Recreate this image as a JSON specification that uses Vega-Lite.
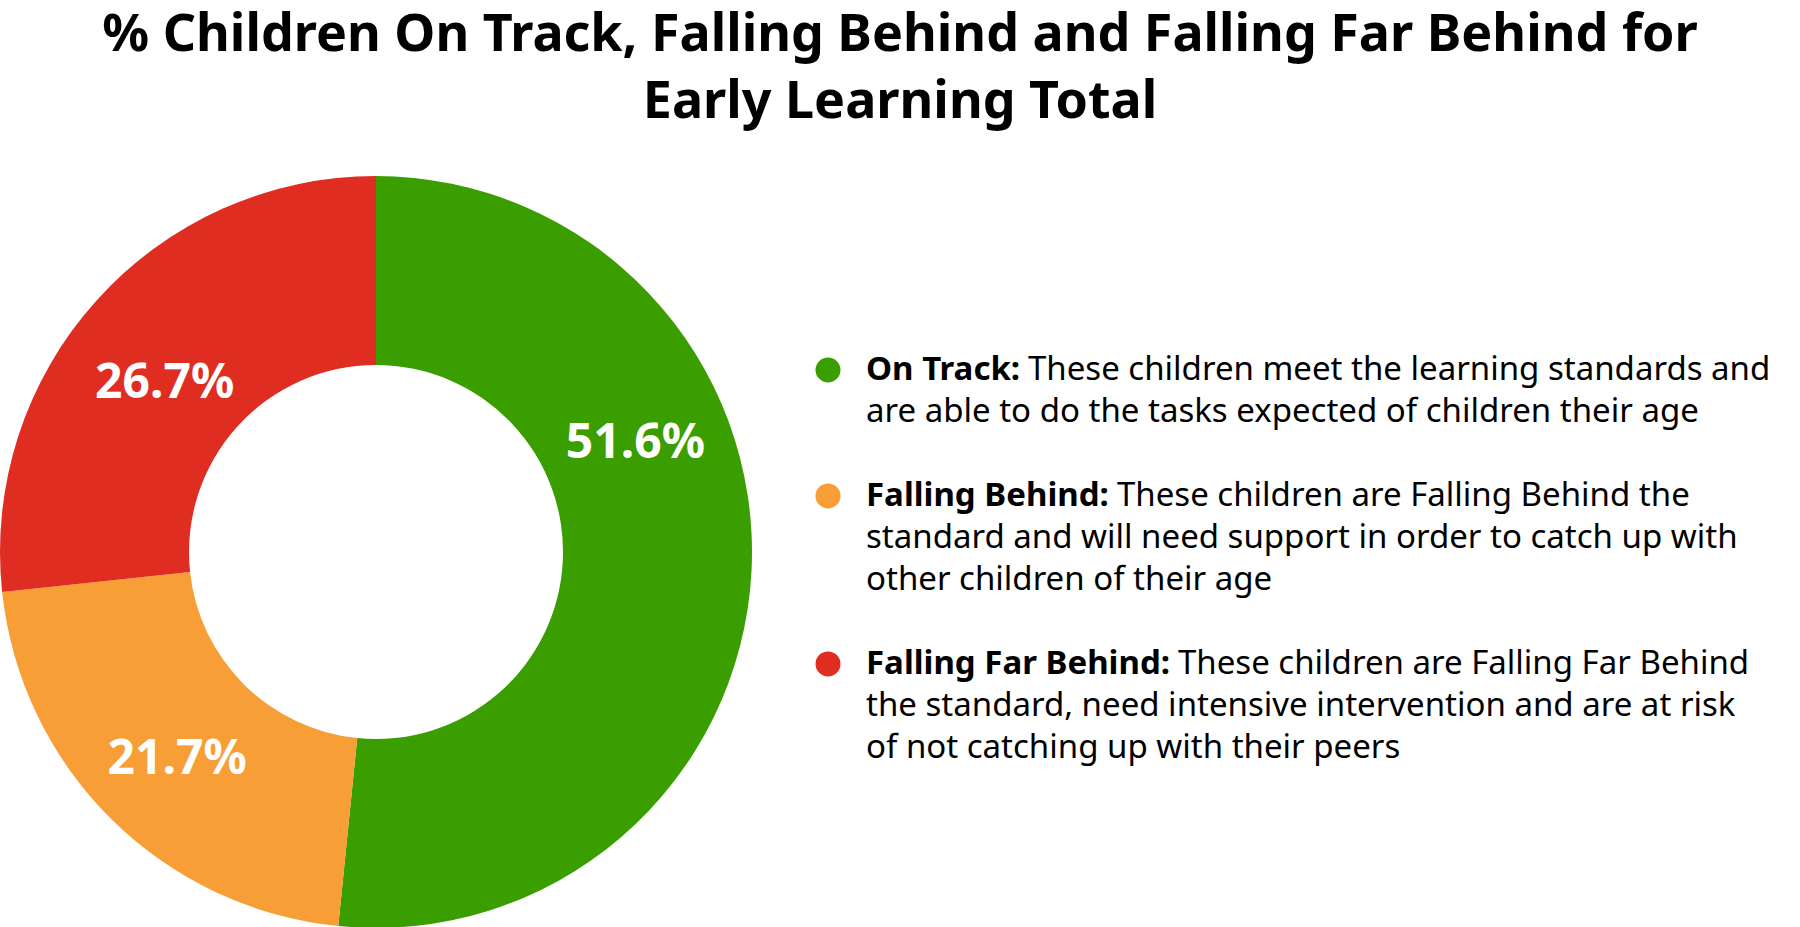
{
  "$schema": "https://vega.github.io/schema/vega-lite/v6.json",
  "padding": {"top": 9, "left": 0, "right": 0, "bottom": 0},
  "background": "white",
  "spacing": 0,
  "title": {
    "text": ["% Children On Track, Falling Behind and Falling Far Behind for", "Early Learning Total"],
    "anchor": "middle",
    "font": "Noto Sans",
    "fontSize": 52,
    "fontWeight": "bold",
    "lineHeight": 67,
    "offset": 47,
    "color": "#000000"
  },
  "datasets": {
    "shares": [
      {"category": "On Track", "idx": 1, "share": 0.516},
      {"category": "Falling Behind", "idx": 2, "share": 0.217},
      {"category": "Falling Far Behind", "idx": 3, "share": 0.267}
    ],
    "legend": [
      {"category": "On Track", "line": 0, "part": "label", "text": "On Track:"},
      {"category": "On Track", "line": 0, "part": "lead", "text": "These children meet the learning standards and"},
      {"category": "On Track", "line": 1, "part": "body", "text": "are able to do the tasks expected of children their age"},
      {"category": "Falling Behind", "line": 3, "part": "label", "text": "Falling Behind:"},
      {"category": "Falling Behind", "line": 3, "part": "lead", "text": "These children are Falling Behind the"},
      {"category": "Falling Behind", "line": 4, "part": "body", "text": "standard and will need support in order to catch up with"},
      {"category": "Falling Behind", "line": 5, "part": "body", "text": "other children of their age"},
      {"category": "Falling Far Behind", "line": 7, "part": "label", "text": "Falling Far Behind:"},
      {"category": "Falling Far Behind", "line": 7, "part": "lead", "text": "These children are Falling Far Behind"},
      {"category": "Falling Far Behind", "line": 8, "part": "body", "text": "the standard, need intensive intervention and are at risk"},
      {"category": "Falling Far Behind", "line": 9, "part": "body", "text": "of not catching up with their peers"}
    ]
  },
  "hconcat": [
    {
      "width": 752,
      "height": 752,
      "data": {"name": "shares"},
      "encoding": {
        "theta": {"field": "share", "type": "quantitative", "stack": true},
        "order": {"field": "idx", "type": "quantitative"}
      },
      "layer": [
        {
          "mark": {"type": "arc", "outerRadius": 376, "innerRadius": 187},
          "encoding": {
            "color": {
              "field": "category",
              "type": "nominal",
              "scale": {
                "domain": ["On Track", "Falling Behind", "Falling Far Behind"],
                "range": ["#3a9e00", "#f89e37", "#e02d22"]
              },
              "legend": null
            }
          }
        },
        {
          "mark": {"type": "text", "radius": 281, "thetaOffset": -0.445, "font": "Noto Sans", "fontSize": 48, "fontWeight": "bold", "color": "#ffffff"},
          "encoding": {
            "text": {
              "condition": {"test": "datum.category == 'On Track'", "field": "share", "type": "quantitative", "format": ".1%"},
              "value": ""
            }
          }
        },
        {
          "mark": {"type": "text", "radius": 288, "thetaOffset": -0.02, "font": "Noto Sans", "fontSize": 48, "fontWeight": "bold", "color": "#ffffff"},
          "encoding": {
            "text": {
              "condition": {"test": "datum.category == 'Falling Behind'", "field": "share", "type": "quantitative", "format": ".1%"},
              "value": ""
            }
          }
        },
        {
          "mark": {"type": "text", "radius": 270, "thetaOffset": -0.06, "font": "Noto Sans", "fontSize": 48, "fontWeight": "bold", "color": "#ffffff"},
          "encoding": {
            "text": {
              "condition": {"test": "datum.category == 'Falling Far Behind'", "field": "share", "type": "quantitative", "format": ".1%"},
              "value": ""
            }
          }
        }
      ]
    },
    {
      "width": 1048,
      "height": 752,
      "data": {"name": "legend"},
      "encoding": {
        "y": {
          "field": "line",
          "type": "quantitative",
          "scale": {"domain": [-4.62, 13.29], "reverse": true, "nice": false, "zero": false},
          "axis": null
        }
      },
      "layer": [
        {
          "transform": [{"filter": "datum.part == 'label'"}],
          "mark": {"type": "point", "filled": true, "opacity": 1, "size": 625, "x": 76},
          "encoding": {
            "color": {
              "field": "category",
              "type": "nominal",
              "scale": {
                "domain": ["On Track", "Falling Behind", "Falling Far Behind"],
                "range": ["#3a9e00", "#f89e37", "#e02d22"]
              },
              "legend": null
            }
          }
        },
        {
          "transform": [{"filter": "datum.part == 'label'"}],
          "mark": {"type": "text", "align": "left", "baseline": "middle", "x": 114, "font": "Noto Sans", "fontSize": 33, "fontWeight": "bold", "color": "#000000"},
          "encoding": {"text": {"field": "text"}}
        },
        {
          "transform": [{"filter": "datum.part == 'body'"}],
          "mark": {"type": "text", "align": "left", "baseline": "middle", "x": 114, "font": "Noto Sans", "fontSize": 33, "color": "#000000"},
          "encoding": {"text": {"field": "text"}}
        },
        {
          "transform": [{"filter": "datum.part == 'lead' && datum.category == 'On Track'"}],
          "mark": {"type": "text", "align": "left", "baseline": "middle", "x": 276, "font": "Noto Sans", "fontSize": 33, "color": "#000000"},
          "encoding": {"text": {"field": "text"}}
        },
        {
          "transform": [{"filter": "datum.part == 'lead' && datum.category == 'Falling Behind'"}],
          "mark": {"type": "text", "align": "left", "baseline": "middle", "x": 365, "font": "Noto Sans", "fontSize": 33, "color": "#000000"},
          "encoding": {"text": {"field": "text"}}
        },
        {
          "transform": [{"filter": "datum.part == 'lead' && datum.category == 'Falling Far Behind'"}],
          "mark": {"type": "text", "align": "left", "baseline": "middle", "x": 426, "font": "Noto Sans", "fontSize": 33, "color": "#000000"},
          "encoding": {"text": {"field": "text"}}
        }
      ]
    }
  ],
  "config": {"view": {"stroke": null}}
}
